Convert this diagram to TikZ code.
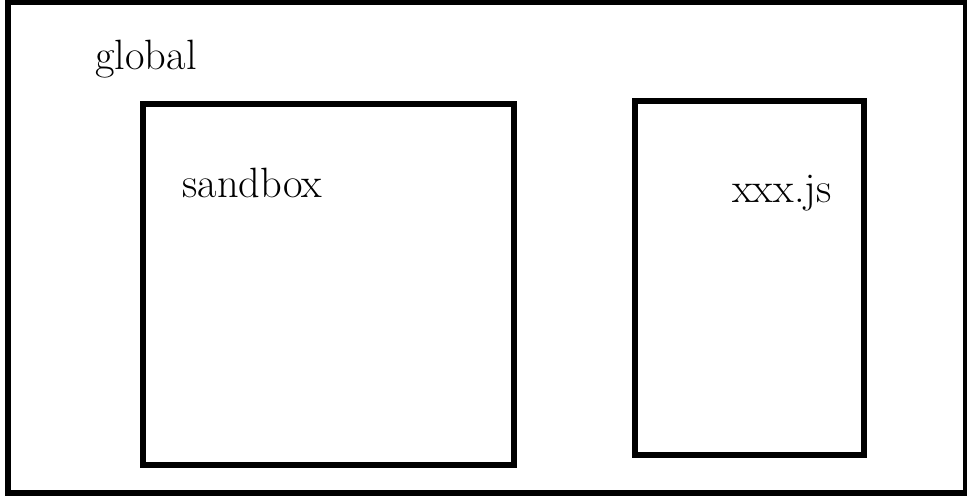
\documentclass[tikz,border=0pt]{standalone}
\begin{document}
\begin{tikzpicture}[x=0.5pt, y=-0.5pt,
  frame/.style={draw=black, line width=3pt, fill=none, inner sep=0pt, outer sep=0pt},
  label/.style={anchor=base west, inner sep=0pt, font=\fontsize{21.2}{25}\selectfont}]
  % page extent
  \useasboundingbox (0,0) rectangle (967,497);
  % outer scope
  \node[frame, minimum width=479pt, minimum height=245.25pt] (global) at (487,247.25) {};
  \node[label] (globaltxt) at (95,70) {global};
  % sandbox region
  \node[frame, minimum width=185.5pt, minimum height=180.25pt] (sandbox) at (328.5,284.75) {};
  \node[label] (sandboxtxt) at (182,198) {sandbox};
  % script file
  \node[frame, minimum width=114.5pt, minimum height=177pt] (script) at (749.5,278) {};
  \node[label] (scripttxt) at (732,203) {xxx.js};
\end{tikzpicture}
\end{document}
